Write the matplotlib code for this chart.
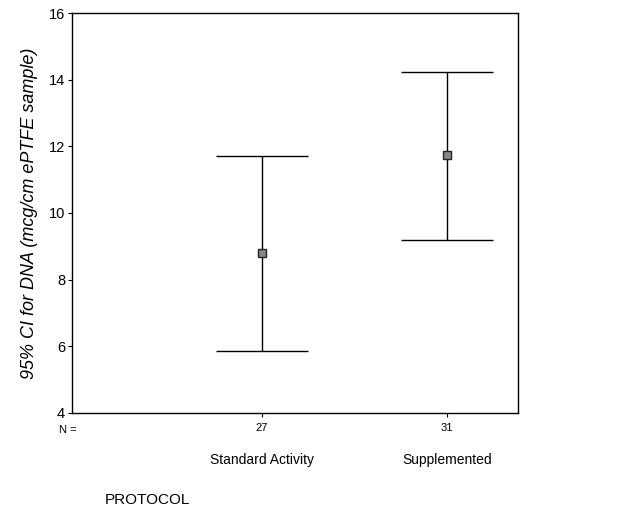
import matplotlib
matplotlib.use("Agg")
from matplotlib import pyplot as plt

# values
groups = ["Standard Activity", "Supplemented"]
counts = [27, 31]
means = [8.8, 11.75]
lower = [5.85, 9.2]
upper = [11.72, 14.22]

plt.rcParams['font.family'] = ['Liberation Sans', 'DejaVu Sans']

fig = plt.figure(figsize=(6.32, 5.2), dpi=100)
ax = fig.add_axes([0.114, 0.206, 0.706, 0.769])

pos = [1, 2]
err_lo = [m - l for m, l in zip(means, lower)]
err_hi = [u - m for m, u in zip(means, upper)]
ax.errorbar(pos, means, yerr=[err_lo, err_hi], fmt='none', ecolor='black',
            elinewidth=1.0, capsize=33, capthick=1.0)
ax.plot(pos, means, 's', markersize=6, markerfacecolor='#888888',
        markeredgecolor='#222222', markeredgewidth=1.0)

ax.set_xlim(-0.027, 2.384)
ax.set_ylim(4, 16)
ax.set_yticks([4, 6, 8, 10, 12, 14, 16])
ax.set_xticks(pos)
ax.set_xticklabels([str(c) for c in counts], fontsize=8)
ax.tick_params(axis='x', length=3, pad=4)
ax.tick_params(axis='y', labelsize=10.5, length=3, pad=2)
for s in ax.spines.values():
    s.set_linewidth(1.0)

ax.text(-0.03, -0.03, "N =", transform=ax.transAxes, fontsize=8,
        ha='left', va='top')
for p, g in zip(pos, groups):
    ax.text(p, -0.1, g, transform=ax.get_xaxis_transform(), fontsize=10,
            ha='center', va='top')

ax.set_ylabel("95% CI for DNA (mcg/cm ePTFE sample)", fontsize=13,
              fontstyle='italic', labelpad=8)
fig.text(0.166, 0.025, "PROTOCOL", fontsize=11, ha='left', va='bottom')

fig.savefig("out.png", dpi=100)
